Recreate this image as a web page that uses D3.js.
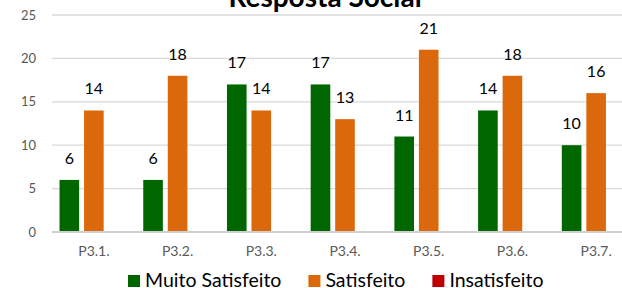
<!DOCTYPE html>
<html lang="pt">
<head>
<meta charset="UTF-8">
<title>Resposta Social</title>
<script src="https://cdn.jsdelivr.net/npm/d3@7"></script>
<style>
  html, body { margin: 0; padding: 0; background: #fff; overflow: hidden; }
  text { font-family: Lato, "Open Sans", sans-serif; }
</style>
</head>
<body>
<div id="chart"></div>
<script>
// data
const categories = ["P3.1.", "P3.2.", "P3.3.", "P3.4.", "P3.5.", "P3.6.", "P3.7."];
const seriesNames = ["Muito Satisfeito", "Satisfeito", "Insatisfeito"];
const muitoSatisfeito = [6, 6, 17, 17, 11, 14, 10];
const satisfeito = [14, 18, 14, 13, 21, 18, 16];
const insatisfeito = [0, 0, 0, 0, 0, 0, 0];
const yTicks = [0, 5, 10, 15, 20, 25];
const colors = ["#006600", "#DC680C", "#C00000"];

const seriesValues = [muitoSatisfeito, satisfeito, insatisfeito];

const width = 622, height = 288;
const svg = d3.select("#chart").append("svg")
    .attr("width", width)
    .attr("height", height);

// plot area (the original chart is a bit wider than the crop, right side clipped)
const x = d3.scaleBand().domain(categories).range([52, 638]);
const xs = d3.scaleBand().domain(seriesNames)
    .range([x.bandwidth() * 0.09, x.bandwidth() * 0.91])
    .paddingInner(0.2);
const y = d3.scaleLinear().domain([0, 25]).range([232, 15]);

// gridlines
svg.append("g")
  .selectAll("line")
  .data(yTicks.filter(d => d > 0))
  .enter().append("line")
    .attr("x1", 52).attr("x2", width)
    .attr("y1", d => y(d)).attr("y2", d => y(d))
    .attr("stroke", "#d9d9d9")
    .attr("stroke-width", 1.3);

// y axis labels
const yAxis = svg.append("g")
    .attr("transform", "translate(40,0)")
    .call(d3.axisLeft(y).tickValues(yTicks).tickSize(0).tickPadding(4));
yAxis.select(".domain").remove();
yAxis.selectAll("text")
    .style("font-family", "Lato, sans-serif")
    .style("font-size", "13px")
    .attr("fill", "#595959");

// bars
const rows = [];
categories.forEach((c, i) => {
  seriesNames.forEach((s, j) => {
    rows.push({cat: c, series: s, value: seriesValues[j][i], color: colors[j]});
  });
});

svg.append("g")
  .selectAll("rect")
  .data(rows.filter(d => d.value > 0))
  .enter().append("rect")
    .attr("x", d => x(d.cat) + xs(d.series))
    .attr("y", d => y(d.value))
    .attr("width", xs.bandwidth())
    .attr("height", d => y(0) - y(d.value))
    .attr("fill", d => d.color);

// data labels
svg.append("g")
  .selectAll("text")
  .data(rows.filter(d => d.value > 0))
  .enter().append("text")
    .attr("x", d => x(d.cat) + xs(d.series) + xs.bandwidth() / 2)
    .attr("y", d => y(d.value) - 16)
    .attr("text-anchor", "middle")
    .style("font-size", "16px")
    .attr("fill", "#000")
    .text(d => d.value);

// x axis baseline
svg.append("line")
    .attr("x1", 52).attr("x2", width)
    .attr("y1", y(0)).attr("y2", y(0))
    .attr("stroke", "#d0d0d0")
    .attr("stroke-width", 2);

// category labels
const xAxis = svg.append("g")
    .attr("transform", `translate(0,${y(0)})`)
    .call(d3.axisBottom(x).tickSize(0).tickPadding(14));
xAxis.select(".domain").remove();
xAxis.selectAll("text")
    .style("font-family", "Lato, sans-serif")
    .style("font-size", "14px")
    .attr("fill", "#595959");

// title (top part is cut off in the reference)
svg.append("text")
    .attr("x", 325)
    .attr("y", 7)
    .attr("text-anchor", "middle")
    .style("font-size", "28px")
    .style("font-weight", "bold")
    .attr("fill", "#000")
    .text("Resposta Social");

// legend
const legend = svg.append("g").attr("transform", "translate(128,281)");
let lx = 0;
seriesNames.forEach((s, j) => {
  legend.append("rect")
      .attr("x", lx).attr("y", -6)
      .attr("width", 12).attr("height", 12)
      .attr("fill", colors[j]);
  const t = legend.append("text")
      .attr("x", lx + 17)
      .attr("y", 6)
      .style("font-size", "19.5px")
      .attr("fill", "#000")
      .text(s);
  lx += 17 + t.node().getComputedTextLength() + 27;
});
</script>
</body>
</html>
